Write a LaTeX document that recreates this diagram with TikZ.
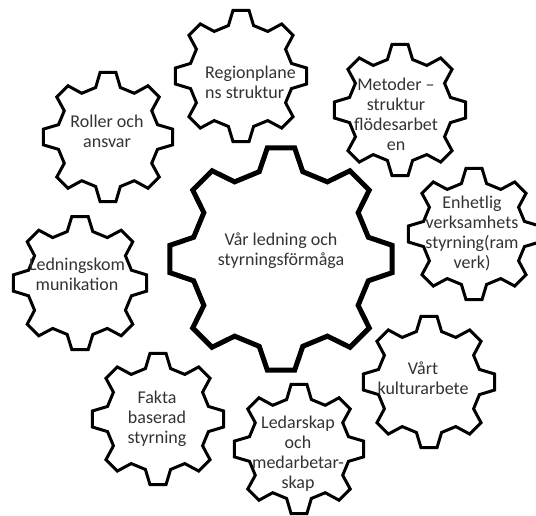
\documentclass[tikz,border=0pt]{standalone}
\usepackage{fontspec}
\setmainfont{Carlito}
\usepackage{tikz}
\usetikzlibrary{positioning}
\tikzset{
    bigcog/.style = {line width=5pt, draw=black, fill=white, line join=miter},
    smallcog/.style = {line width=3pt, draw=black, fill=white, line join=miter},
    cogtext/.style = {align=center, inner sep=0, text=black!80, font=\fontsize{18}{20}\selectfont},
    cogtextl/.style = {align=left, inner sep=0, text=black!80, font=\fontsize{18}{20}\selectfont, anchor=west}
}
% #1 centre, #2 tip radius, #3 root radius, #4 style
\newcommand{\cogwheel}[4]{%
  \begin{scope}[shift={(#1)}]
    \draw[#4] (59:#3) \foreach \k in {0,...,6}{ -- (90+45*\k-14:#3) -- (90+45*\k-7:#2) -- (90+45*\k+7:#2) -- (90+45*\k+14:#3)} -- (31:#3) -- (38:#2) -- (52:#2) -- cycle;
  \end{scope}}

\begin{document}
\begin{tikzpicture}[x=1pt,y=-1pt]
\useasboundingbox (0,0) rectangle (536,515);

\cogwheel{281,259}{112}{90}{bigcog}
\cogwheel{241,76}{66}{52}{smallcog}
\cogwheel{400,110}{66}{52}{smallcog}
\cogwheel{108,137}{65}{51}{smallcog}
\cogwheel{474,234}{66}{52}{smallcog}
\cogwheel{80,283}{67}{53}{smallcog}
\cogwheel{429,382}{66}{52}{smallcog}
\cogwheel{158,419}{66}{52}{smallcog}
\cogwheel{299,449}{65}{51}{smallcog}

\node[cogtext] at (281, 251) (core) {Vår ledning och\\styrningsförmåga};
\node[cogtextl] at (205, 82) (region) {Regionplane\\ns struktur};
\node[cogtext] at (396, 114) (methods) {Metoder –\\struktur\\flödesarbet\\en};
\node[cogtext] at (107, 131) (roles) {Roller och\\ansvar};
\node[cogtext] at (472, 233) (unified) {Enhetlig\\verksamhets\\styrning(ram\\verk)};
\node[cogtext] at (77, 274) (comms) {Ledningskom\\munikation};
\node[cogtext] at (423, 378) (culture) {Vårt\\kulturarbete};
\node[cogtext] at (157, 419) (facts) {Fakta\\baserad\\styrning};
\node[cogtext] at (298, 454) (leaders) {Ledarskap\\och\\medarbetar-\\skap};

\end{tikzpicture}
\end{document}
